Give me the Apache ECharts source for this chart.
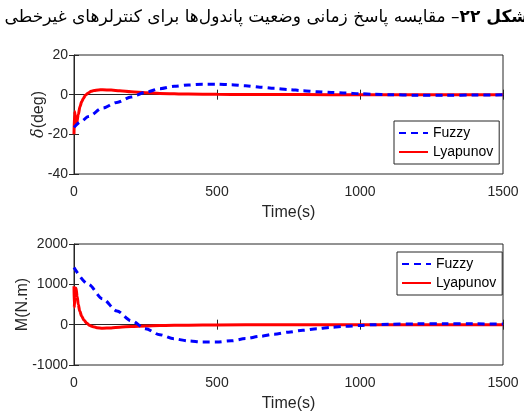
<!DOCTYPE html>
<html>
<head>
<meta charset="utf-8">
<script src="https://cdn.jsdelivr.net/npm/echarts@6/dist/echarts.min.js"></script>
<style>html,body{margin:0;padding:0;background:#fff;}#c{width:524px;height:413px;}</style>
</head>
<body>
<div id="c"></div>
<script>
// ---- data ----
var titleBold = 'شکل ۲۲';
var titleRest = 'مقایسه پاسخ زمانی وضعیت پاندول‌ها برای کنترلرهای غیرخطی';
var xTicks = [0, 500, 1000, 1500];

var fuzzyDeltaT = [0, 25, 50, 100, 150, 200, 250, 300, 350, 400, 450, 500, 550, 600, 650, 700, 750, 800, 850, 900, 950, 1000, 1050, 1100, 1200, 1300, 1400, 1500];
var fuzzyDeltaV = [-16.5, -13.5, -11, -6.8, -3.9, -1.2, 1.2, 3.0, 4.2, 4.9, 5.3, 5.3, 5.0, 4.5, 3.8, 3.2, 2.6, 2.0, 1.5, 1.1, 0.8, 0.5, 0.2, 0.0, -0.3, -0.3, -0.2, -0.1];

var lyapDeltaT = [0, 2, 5, 9, 15, 21, 27, 33, 40, 50, 60, 70, 85, 100, 130, 160, 200, 250, 300, 400, 500, 600, 700, 800, 1000, 1200, 1500];
var lyapDeltaV = [-20, -8.5, -12, -14.5, -10, -6, -3.5, -1.8, -0.3, 0.9, 1.7, 2.1, 2.4, 2.5, 2.3, 2.0, 1.5, 1.0, 0.6, 0.3, 0.15, 0.1, 0.05, 0.03, 0, 0, 0];

var fuzzyMT = [0, 50, 100, 150, 200, 250, 300, 350, 400, 450, 500, 550, 600, 650, 700, 750, 800, 850, 900, 950, 1000, 1050, 1100, 1200, 1300, 1400, 1500];
var fuzzyMV = [1420, 1000, 640, 340, 100, -100, -250, -350, -405, -430, -430, -400, -345, -290, -235, -185, -140, -100, -65, -40, -20, 0, 12, 20, 22, 20, 18];

var lyapMT = [0, 1, 3, 7, 11, 15, 20, 27, 35, 44, 55, 67, 80, 100, 130, 160, 200, 250, 300, 400, 500, 700, 1000, 1500];
var lyapMV = [950, 430, 700, 900, 700, 500, 340, 210, 110, 40, -20, -50, -75, -88, -80, -62, -45, -32, -22, -12, -6, -2, 0, 0];

// ---- chart ----
function zip(t, v) { return t.map(function (x, i) { return [x, v[i]]; }); }
var TXT = '#262626';
var FONT = 'Liberation Sans, Arial, sans-serif';
function plain(v) { return String(v); }

function xAx(gi, pos) {
  var main = pos === 'bottom';
  return {
    gridIndex: gi, type: 'value', position: pos, min: xTicks[0], max: xTicks[xTicks.length - 1], interval: 500,
    axisLine: { show: main, lineStyle: { color: TXT, width: 1 } },
    axisTick: { show: true, inside: true, length: 5, lineStyle: { color: TXT } },
    axisLabel: { show: main, color: TXT, fontSize: 14, fontFamily: FONT, margin: 11, formatter: plain },
    splitLine: { show: false },
    name: main ? 'Time(s)' : '', nameLocation: 'middle', nameGap: 31, nameMoveOverlap: false,
    nameTextStyle: { color: TXT, fontSize: 16, fontFamily: FONT }
  };
}
function yAx(gi, pos, min, max, itv, name, gap) {
  var main = pos === 'left';
  return {
    gridIndex: gi, type: 'value', position: pos, min: min, max: max, interval: itv,
    axisLine: { show: main, lineStyle: { color: TXT, width: 1 } },
    axisTick: { show: true, inside: true, length: 5, lineStyle: { color: TXT } },
    axisLabel: { show: main, color: TXT, fontSize: 14, fontFamily: FONT, margin: 6, formatter: plain },
    splitLine: { show: false },
    name: main ? name : '', nameLocation: 'middle', nameGap: gap, nameRotate: 90, nameMoveOverlap: false,
    nameTextStyle: { color: TXT, fontSize: 16, fontFamily: FONT,
      rich: { i: { fontStyle: 'italic', fontSize: 16, fontFamily: 'DejaVu Serif', color: TXT } } }
  };
}
function legendAt(left, top) {
  return {
    left: left, top: top, orient: 'vertical', data: ['Fuzzy', 'Lyapunov'],
    backgroundColor: '#fff', borderColor: TXT, borderWidth: 1, borderRadius: 0,
    padding: [5, 6, 5, 4], itemWidth: 29, itemHeight: 14, itemGap: 5,
    itemStyle: { opacity: 0 },
    textStyle: { color: '#000', fontSize: 14, fontFamily: FONT },
    selectedMode: false
  };
}
var fuzzyStyle = { color: '#0000ff', width: 3, type: [7, 5] };
var lyapStyle = { color: '#ff0000', width: 3, type: 'solid' };
function ser(name, xi, yi, data, ls, z) {
  return { name: name, type: 'line', xAxisIndex: xi, yAxisIndex: yi, data: data, showSymbol: false, symbol: 'none',
    smooth: 0.3, smoothMonotone: 'x', lineStyle: ls, itemStyle: { color: ls.color }, z: z, animation: false };
}
var gridBase = { left: 74, right: 21, show: true, borderColor: TXT, borderWidth: 1, backgroundColor: '#fff',
  containLabel: false, outerBoundsMode: 'none' };

var chart = echarts.init(document.getElementById('c'), null, { renderer: 'canvas' });
chart.setOption({
  backgroundColor: '#fff',
  animation: false,
  grid: [
    Object.assign({ top: 55, height: 119 }, gridBase),
    Object.assign({ top: 244, height: 121 }, gridBase)
  ],
  xAxis: [xAx(0, 'bottom'), xAx(0, 'top'), xAx(1, 'bottom'), xAx(1, 'top')],
  yAxis: [
    yAx(0, 'left', -40, 20, 20, '{i|δ}(deg)', 27), yAx(0, 'right', -40, 20, 20, '', 0),
    yAx(1, 'left', -1000, 2000, 1000, 'M(N.m)', 43), yAx(1, 'right', -1000, 2000, 1000, '', 0)
  ],
  legend: [legendAt(394, 121), legendAt(397, 252)],
  series: [
    ser('Lyapunov', 0, 0, zip(lyapDeltaT, lyapDeltaV), lyapStyle, 2),
    ser('Fuzzy', 0, 0, zip(fuzzyDeltaT, fuzzyDeltaV), fuzzyStyle, 3),
    ser('Lyapunov', 2, 2, zip(lyapMT, lyapMV), lyapStyle, 2),
    ser('Fuzzy', 2, 2, zip(fuzzyMT, fuzzyMV), fuzzyStyle, 3)
  ],
  graphic: [{
    type: 'text', x: 528, y: 18, z: 10,
    style: {
      text: '{n|' + titleRest + '} –{b|' + titleBold + '}',
      align: 'right', verticalAlign: 'middle',
      fill: '#000', font: '17px DejaVu Sans',
      rich: {
        n: { fontSize: 17, fontFamily: 'DejaVu Sans', fill: '#000' },
        b: { fontSize: 17, fontFamily: 'DejaVu Sans', fontWeight: 'bold', fill: '#000' }
      }
    }
  }]
});
</script>
</body>
</html>
